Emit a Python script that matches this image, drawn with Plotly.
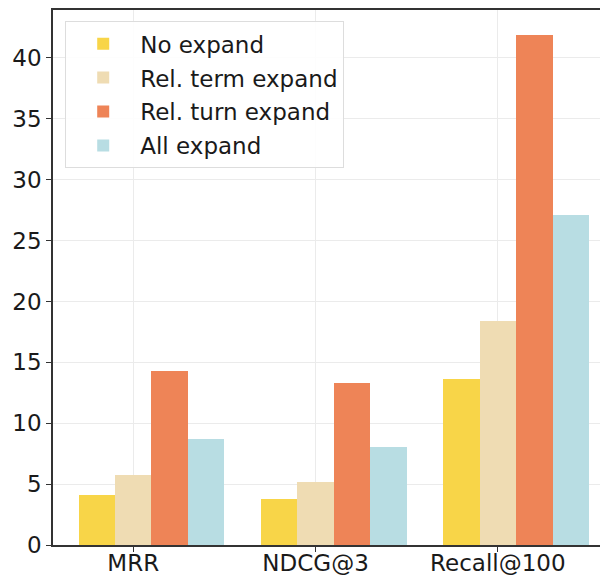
import plotly.graph_objects as go

categories = ["MRR", "NDCG@3", "Recall@100"]
series_names = ["No expand", "Rel. term expand", "Rel. turn expand", "All expand"]
no_expand = [4.13, 3.8, 13.67]
rel_term_expand = [5.71, 5.17, 18.36]
rel_turn_expand = [14.32, 13.32, 41.85]
all_expand = [8.7, 8.04, 27.12]
y_ticks = [0, 5, 10, 15, 20, 25, 30, 35, 40]

colors = ["#F8D548", "#EFDCB3", "#EE8457", "#B8DDE3"]
values = [no_expand, rel_term_expand, rel_turn_expand, all_expand]
offsets = [-0.2, 0.0, 0.2, 0.4]
bar_w = 0.2

fig = go.Figure()
for k, (name, vals) in enumerate(zip(series_names, values)):
    fig.add_trace(go.Bar(
        x=[i + offsets[k] for i in range(len(categories))],
        y=vals,
        width=bar_w,
        name=name,
        marker=dict(color=colors[k], line=dict(width=0)),
        legendgroup=f"g{k}",
    ))

font_family = "DejaVu Sans"
# page body has an 8px default margin, so the figure is 600x568
fig.update_layout(
    width=600, height=568,
    margin=dict(l=45, r=0, t=1, b=29),
    plot_bgcolor="white", paper_bgcolor="white",
    font=dict(family=font_family, size=23, color="#1a1a1a"),
    bargap=0,
    showlegend=True,
    legend=dict(
        x=0.022, y=0.979, xanchor="left", yanchor="top",
        bgcolor="rgba(255,255,255,0.9)", bordercolor="#dddddd", borderwidth=1,
        font=dict(family=font_family, size=23, color="#1a1a1a"),
        traceorder="grouped", tracegroupgap=1,
        itemwidth=64,
    ),
    xaxis=dict(
        range=[-0.44, 2.604],
        tickmode="array", tickvals=list(range(len(categories))), ticktext=categories,
        showgrid=True, gridcolor="#ebebeb", gridwidth=1,
        showline=True, linecolor="#333333", linewidth=1.5, mirror=True,
        ticks="outside", ticklen=5, tickcolor="#333333",
        ticklabelstandoff=-8,
        zeroline=False,
    ),
    yaxis=dict(
        range=[0, 43.94],
        tickmode="array", tickvals=y_ticks,
        showgrid=True, gridcolor="#ebebeb", gridwidth=1,
        showline=True, linecolor="#333333", linewidth=1.5,
        ticks="outside", ticklen=5, tickcolor="#333333",
        zeroline=False,
    ),
)

fig.write_html("out.html")
